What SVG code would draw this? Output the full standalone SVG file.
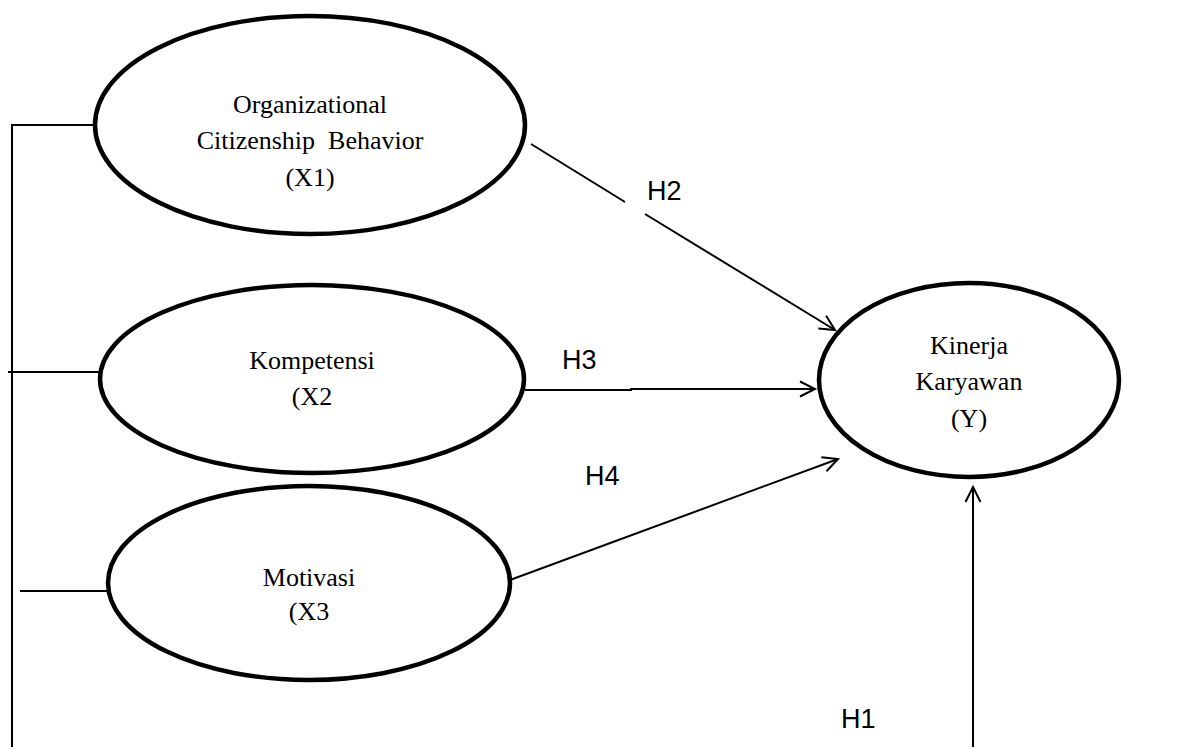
<svg xmlns="http://www.w3.org/2000/svg" width="1182" height="747" viewBox="0 0 1182 747">
<style>
.node{fill:#fff;stroke:#000;stroke-width:4.5}
.t{font-family:"Liberation Serif","Times New Roman",serif;font-size:26px;fill:#000;text-anchor:middle}
.h{font-family:"Liberation Sans",Arial,sans-serif;font-size:27px;fill:#000}
.c{stroke:#000;stroke-width:2;fill:none}
</style>
<defs>
<marker id="ah" markerWidth="20" markerHeight="20" refX="16" refY="8" orient="auto" markerUnits="userSpaceOnUse" viewBox="0 0 20 16">
<path d="M1,0.5 L16,8 L1,15.5" fill="none" stroke="#000" stroke-width="2"/>
</marker>
</defs>
<rect width="1182" height="747" fill="#fff"/>
<g id="connectors">
<polyline class="c" points="95,125 12,125 12,747"/>
<line class="c" x1="8" y1="372" x2="100" y2="372"/>
<line class="c" x1="20" y1="591" x2="108" y2="591"/>
<line class="c" x1="531" y1="144" x2="625" y2="202"/>
<line class="c" x1="645" y1="214" x2="835" y2="330" marker-end="url(#ah)"/>
<line class="c" x1="525" y1="390" x2="632" y2="390"/>
<line class="c" x1="630" y1="389" x2="815" y2="389" marker-end="url(#ah)"/>
<line class="c" x1="510" y1="580" x2="838" y2="459" marker-end="url(#ah)"/>
<line class="c" x1="973" y1="747" x2="973" y2="487" marker-end="url(#ah)"/>
</g>
<g id="node-x1">
<ellipse class="node" cx="310" cy="125" rx="215" ry="109"/>
<text class="t" x="310" y="113">Organizational</text>
<text class="t" x="310" y="149" xml:space="preserve">Citizenship  Behavior</text>
<text class="t" x="310" y="186">(X1)</text>
</g>
<g id="node-x2">
<ellipse class="node" cx="312" cy="379" rx="212" ry="94"/>
<text class="t" x="312" y="369">Kompetensi</text>
<text class="t" x="312" y="405">(X2</text>
</g>
<g id="node-x3">
<ellipse class="node" cx="309" cy="583" rx="201" ry="97"/>
<text class="t" x="309" y="586">Motivasi</text>
<text class="t" x="309" y="620">(X3</text>
</g>
<g id="node-y">
<ellipse class="node" cx="969" cy="380" rx="150" ry="97"/>
<text class="t" x="969" y="354">Kinerja</text>
<text class="t" x="969" y="390">Karyawan</text>
<text class="t" x="969" y="427">(Y)</text>
</g>
<g id="labels">
<text class="h" x="647" y="200">H2</text>
<text class="h" x="562" y="369">H3</text>
<text class="h" x="585" y="485">H4</text>
<text class="h" x="841" y="728">H1</text>
</g>
</svg>
